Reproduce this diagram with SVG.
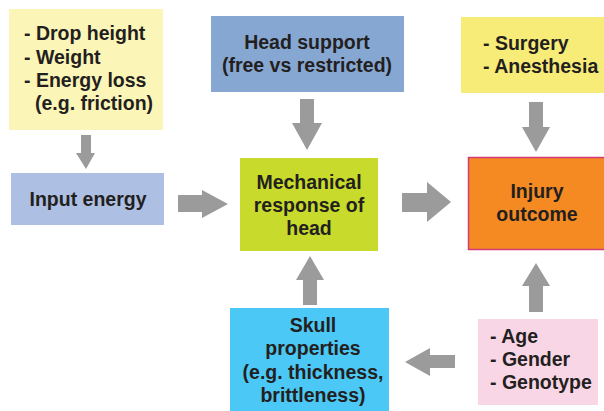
<svg xmlns="http://www.w3.org/2000/svg" width="604" height="411" viewBox="0 0 604 411">
<style>
text{font-family:"Liberation Sans",Arial,sans-serif;font-weight:bold;font-size:19.5px;fill:#231F20}
.c{text-anchor:middle}
.arrow{fill:#9B9B9B}
</style>
<rect width="604" height="411" fill="#fff"/>
<g id="node-factors">
<rect x="9" y="9" width="154" height="121" fill="#FCF5B8"/>
<text x="24" y="40">- Drop height</text>
<text x="24" y="64">- Weight</text>
<text x="24" y="87">- Energy loss</text>
<text x="35" y="110">(e.g. friction)</text>
</g>
<g id="node-head-support">
<rect x="211" y="16" width="193" height="76" fill="#87A7D3"/>
<text class="c" x="307" y="49">Head support</text>
<text class="c" x="307" y="72">(free vs restricted)</text>
</g>
<g id="node-surgery">
<rect x="461" y="17" width="143" height="76" fill="#F8EC78"/>
<text x="483" y="50">- Surgery</text>
<text x="483" y="73">- Anesthesia</text>
</g>
<g id="node-input">
<rect x="11" y="173" width="153" height="52" fill="#ADBFE3"/>
<text class="c" x="88" y="206">Input energy</text>
</g>
<g id="node-mechanical">
<rect x="240" y="158" width="138" height="93" fill="#C8DA2B"/>
<text class="c" x="309" y="189">Mechanical</text>
<text class="c" x="309" y="212">response of</text>
<text class="c" x="309" y="235">head</text>
</g>
<g id="node-injury">
<rect x="468.5" y="157.5" width="140" height="92" fill="#F48A21" stroke="#D33A78" stroke-width="1.5"/>
<text class="c" x="537" y="198">Injury</text>
<text class="c" x="537" y="221">outcome</text>
</g>
<g id="node-skull">
<rect x="230" y="308" width="159" height="103" fill="#4BC8F5"/>
<text class="c" x="313" y="332">Skull</text>
<text class="c" x="313" y="355">properties</text>
<text class="c" x="313" y="379">(e.g. thickness,</text>
<text class="c" x="313" y="402">brittleness)</text>
</g>
<g id="node-age">
<rect x="478" y="319" width="120" height="86" fill="#F9D6E6"/>
<text x="490" y="343">- Age</text>
<text x="490" y="366">- Gender</text>
<text x="490" y="389">- Genotype</text>
</g>
<g id="connectors">
<polygon class="arrow" points="81,135 91,135 91,153 95,153 86,169 76,153 81,153"/>
<polygon class="arrow" points="300,99 314,99 314,123 322,123 307,150 292,123 300,123"/>
<polygon class="arrow" points="529,102 543,102 543,127 550,127 536,152 522,127 529,127"/>
<polygon class="arrow" points="178,195 202,195 202,190 228,204 202,218 202,212 178,212"/>
<polygon class="arrow" points="402,193 427,193 427,182 451,202 427,222 427,212 402,212"/>
<polygon class="arrow" points="303,305 317,305 317,280 324,280 310,256 296,280 303,280"/>
<polygon class="arrow" points="529,312 543,312 543,286 550,286 536,263 522,286 529,286"/>
<polygon class="arrow" points="455,355 455,368 430,368 430,376 405,362 430,348 430,355"/>
</g>
</svg>
